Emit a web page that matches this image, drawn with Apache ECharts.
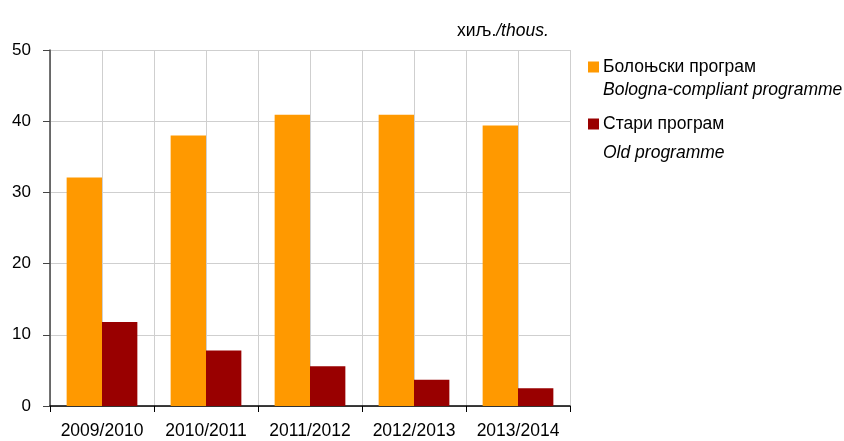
<!DOCTYPE html>
<html>
<head>
<meta charset="utf-8">
<script src="https://cdn.jsdelivr.net/npm/echarts@6/dist/echarts.min.js"></script>
<style>
  html, body { margin: 0; padding: 0; background: #fff; }
  #chart { width: 844px; height: 441px; }
</style>
</head>
<body>
<div id="chart"></div>
<script>
// школске године
const years = ['2009/2010', '2010/2011', '2011/2012', '2012/2013', '2013/2014']
// хиљ. / thous.
const bologna = [32.1, 38.0, 40.9, 40.9, 39.4]
const oldProg = [11.8, 7.8, 5.6, 3.7, 2.5]
const yTicks = [0, 10, 20, 30, 40, 50]

const seriesNames = ['Болоњски програм', 'Стари програм']
const seriesNamesEn = ['Bologna-compliant programme', 'Old programme']

const FONT = '"Liberation Sans", Arial, sans-serif'

const myChart = echarts.init(document.getElementById('chart'))

const options = {
  animation: false,
  grid: { left: 50, right: 274, top: 50, bottom: 35 },
  textStyle: { fontFamily: FONT },
  legend: {
    orient: 'vertical',
    left: 583,
    top: 53,
    itemWidth: 11,
    itemHeight: 11,
    itemGap: 39,
    icon: 'rect',
    data: seriesNames,
    textStyle: { fontFamily: FONT, fontSize: 17.5, color: '#000', padding: [0, 0, 0, -1] }
  },
  graphic: [
    {
      type: 'text', left: 457, top: 22,
      style: {
        text: '{a|хиљ.}{b|/thous.}',
        rich: {
          a: { fontFamily: FONT, fontSize: 17.5, fill: '#000' },
          b: { fontFamily: FONT, fontSize: 17.5, fontStyle: 'italic', fill: '#000' }
        }
      }
    },
    {
      type: 'text', left: 603, top: 81,
      style: { text: seriesNamesEn[0], fontFamily: FONT, fontSize: 17.5, fontStyle: 'italic', fill: '#000' }
    },
    {
      type: 'text', left: 603, top: 144,
      style: { text: seriesNamesEn[1], fontFamily: FONT, fontSize: 17.5, fontStyle: 'italic', fill: '#000' }
    }
  ],
  xAxis: [
    {
      type: 'category',
      data: years,
      axisLine: { lineStyle: { color: '#000', width: 1.5 } },
      axisTick: { show: true, length: 6, lineStyle: { color: '#000' } },
      axisLabel: { fontFamily: FONT, fontSize: 17.5, color: '#000', margin: 16, interval: 0 },
      splitLine: { show: false }
    },
    {
      // половина категорије — вертикалне линије мреже
      type: 'value',
      position: 'top',
      min: 0,
      max: years.length * 2,
      interval: 1,
      axisLine: { show: false },
      axisTick: { show: false },
      axisLabel: { show: false },
      splitLine: { show: true, lineStyle: { color: '#cfcfcf', width: 1 } }
    }
  ],
  yAxis: {
    type: 'value',
    min: yTicks[0],
    max: yTicks[yTicks.length - 1],
    interval: 10,
    axisLine: { show: true, lineStyle: { color: '#444', width: 1.5 } },
    axisTick: { show: true, length: 7, lineStyle: { color: '#444' } },
    axisLabel: { fontFamily: FONT, fontSize: 17, color: '#000', margin: 19 },
    splitLine: { show: true, lineStyle: { color: '#cfcfcf', width: 1 } }
  },
  series: [
    {
      name: seriesNames[0],
      type: 'bar',
      xAxisIndex: 0,
      data: bologna,
      barGap: '0%',
      barCategoryGap: '32%',
      itemStyle: { color: '#ff9900' }
    },
    {
      name: seriesNames[1],
      type: 'bar',
      xAxisIndex: 0,
      data: oldProg,
      itemStyle: { color: '#990000' }
    }
  ]
}

myChart.setOption(options)
</script>
</body>
</html>
